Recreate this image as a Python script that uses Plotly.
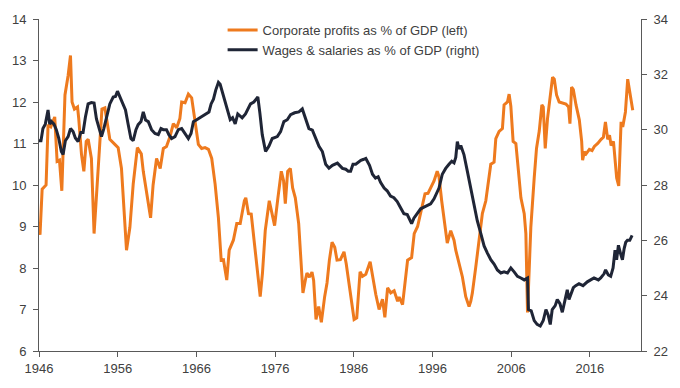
import plotly.graph_objects as go

# ---- data ----
profit_years = [1946.0, 1946.13, 1946.4, 1946.9, 1947.15, 1947.5, 1948.0, 1948.3, 1948.6, 1948.9,
                1949.3, 1949.7, 1950.0, 1950.2, 1950.5, 1950.9, 1951.05, 1951.4, 1951.7, 1952.0,
                1952.25, 1952.66, 1953.0, 1953.3, 1953.73, 1954.0, 1954.37, 1954.57, 1955.0, 1955.64,
                1956.06, 1956.48, 1957.12, 1957.55, 1957.97, 1958.5, 1959.0, 1959.25, 1959.67, 1960.18,
                1960.5, 1960.94, 1961.4, 1961.8, 1962.2, 1962.65, 1963.07, 1963.5, 1963.9, 1964.13,
                1964.56, 1964.98, 1965.4, 1965.83, 1966.25, 1966.67, 1967.1, 1967.53, 1967.95, 1968.38,
                1968.8, 1969.15, 1969.44, 1969.86, 1970.17, 1970.7, 1971.13, 1971.57, 1972.1, 1972.28,
                1972.62, 1972.97, 1973.26, 1973.68, 1974.11, 1974.4, 1974.75, 1975.26, 1975.6, 1975.94,
                1976.36, 1976.79, 1977.08, 1977.3, 1977.6, 1977.94, 1978.23, 1978.57, 1979.0, 1979.2,
                1979.54, 1979.85, 1980.05, 1980.36, 1980.69, 1980.9, 1981.2, 1981.54, 1981.88, 1982.3,
                1982.6, 1982.9, 1983.24, 1983.58, 1983.87, 1984.3, 1984.76, 1985.04, 1985.6, 1986.04,
                1986.38, 1986.8, 1987.1, 1987.53, 1988.08, 1988.38, 1988.8, 1989.22, 1989.65, 1989.95,
                1990.3, 1990.7, 1991.13, 1991.57, 1991.77, 1992.2, 1992.4, 1992.84, 1993.35, 1993.68,
                1994.11, 1994.54, 1995.05, 1995.43, 1995.77, 1996.2, 1996.6, 1996.83, 1997.17, 1997.46,
                1997.88, 1998.32, 1998.74, 1998.96, 1999.38, 1999.8, 2000.23, 2000.65, 2000.87, 2001.07,
                2001.5, 2001.92, 2002.34, 2002.78, 2003.2, 2003.41, 2003.83, 2004.05, 2004.47, 2004.89,
                2005.1, 2005.53, 2005.74, 2005.96, 2006.25, 2006.6, 2006.93, 2007.24, 2007.66, 2007.87,
                2008.08, 2008.29, 2008.5, 2008.93, 2009.22, 2009.57, 2009.9, 2010.08, 2010.33, 2010.62,
                2010.93, 2011.26, 2011.48, 2011.77, 2012.1, 2012.53, 2012.96, 2013.3, 2013.47, 2013.68,
                2013.9, 2014.24, 2014.66, 2014.96, 2015.08, 2015.3, 2015.52, 2015.94, 2016.28, 2016.57,
                2017.0, 2017.43, 2017.72, 2017.98, 2018.27, 2018.5, 2018.7, 2019.0, 2019.24, 2019.41,
                2019.67, 2019.85, 2019.97, 2020.18, 2020.52, 2020.81, 2021.03, 2021.45]
profit_values = [9.1, 8.8, 9.9, 10.0, 11.45, 11.4, 11.64, 10.57, 10.6, 9.86,
                 12.17, 12.64, 13.12, 12.0, 11.83, 11.88, 11.6, 10.74, 10.33, 11.05,
                 11.1, 10.64, 8.83, 9.69, 10.81, 11.83, 11.86, 11.6, 11.1, 10.98,
                 10.9, 10.4, 8.43, 8.98, 10.02, 10.9, 10.75, 10.33, 9.79, 9.21,
                 10.0, 10.64, 10.4, 10.88, 10.93, 11.17, 11.48, 11.38, 11.6, 12.0,
                 11.98, 12.19, 12.1, 11.57, 10.98, 10.88, 10.9, 10.86, 10.64, 10.02,
                 9.21, 8.19, 8.2, 7.71, 8.43, 8.67, 9.07, 9.07, 9.62, 9.69,
                 9.31, 9.3, 8.83, 8.12, 7.31, 7.88, 8.9, 9.62, 9.31, 9.02,
                 9.69, 10.33, 10.1, 9.55, 10.33, 10.4, 9.93, 9.69, 9.07, 8.43,
                 7.40, 7.71, 7.88, 7.78, 7.9, 7.7, 6.76, 7.07, 6.69, 7.31,
                 7.64, 8.19, 8.62, 8.5, 8.19, 8.2, 8.39, 8.1, 7.32, 6.76,
                 6.8, 7.91, 7.8, 7.85, 8.15, 7.8, 7.36, 7.0, 7.25, 6.81,
                 7.52, 7.4, 7.45, 7.2, 7.3, 7.12, 7.45, 8.19, 8.25, 8.83,
                 9.0, 9.38, 9.79, 9.8, 9.93, 10.1, 10.33, 10.2, 9.62, 9.14,
                 8.6, 8.9, 8.67, 8.43, 8.12, 7.79, 7.31, 7.07, 7.2, 7.4,
                 8.02, 8.67, 9.31, 9.62, 10.26, 10.5, 10.55, 11.12, 11.29, 11.36,
                 11.93, 12.0, 12.19, 11.9, 11.05, 11.0, 10.33, 9.69, 9.31, 8.83,
                 6.93, 7.88, 8.98, 10.17, 10.88, 11.3, 11.93, 11.88, 10.88, 11.6,
                 12.07, 12.6, 12.55, 12.17, 12.0, 11.98, 11.95, 11.88, 11.48, 12.36,
                 12.3, 11.93, 11.57, 11.05, 10.6, 10.8, 10.75, 10.86, 10.83, 10.93,
                 11.0, 11.1, 11.15, 11.52, 11.1, 11.2, 10.95, 11.05, 10.57, 10.17,
                 9.98, 10.88, 11.52, 11.4, 11.76, 12.55, 12.3, 11.8]

wage_years = [1946.0, 1946.25, 1946.5, 1946.8, 1947.15, 1947.36, 1947.57, 1947.9, 1948.2, 1948.5,
              1948.84, 1949.06, 1949.35, 1949.7, 1950.0, 1950.33, 1950.62, 1950.97, 1951.31, 1951.6,
              1951.9, 1952.24, 1952.66, 1953.0, 1953.3, 1953.64, 1953.94, 1954.24, 1954.57, 1955.0,
              1955.43, 1955.72, 1955.97, 1956.28, 1956.7, 1956.99, 1957.34, 1957.68, 1957.97, 1958.32,
              1958.6, 1958.96, 1959.25, 1959.54, 1959.89, 1960.3, 1960.74, 1961.16, 1961.5, 1961.8,
              1962.2, 1962.5, 1962.85, 1963.28, 1963.7, 1964.13, 1964.56, 1964.98, 1965.32, 1965.62,
              1966.04, 1966.47, 1966.9, 1967.3, 1967.6, 1967.87, 1968.17, 1968.46, 1968.8, 1969.02,
              1969.3, 1969.66, 1969.99, 1970.3, 1970.6, 1970.93, 1971.26, 1971.57, 1971.82, 1972.24,
              1972.88, 1973.3, 1973.81, 1974.07, 1974.37, 1974.79, 1975.21, 1975.64, 1976.28, 1976.7,
              1977.12, 1977.55, 1977.97, 1978.48, 1979.03, 1979.46, 1979.89, 1980.3, 1980.74, 1981.16,
              1981.58, 1982.01, 1982.43, 1982.85, 1983.29, 1983.92, 1984.56, 1984.98, 1985.3, 1985.6,
              1985.9, 1986.25, 1986.9, 1987.27, 1987.53, 1988.0, 1988.38, 1988.76, 1989.1, 1989.4,
              1989.86, 1990.24, 1990.67, 1991.1, 1991.52, 1991.95, 1992.37, 1992.8, 1993.1, 1993.35,
              1993.64, 1994.06, 1994.5, 1994.92, 1995.34, 1995.77, 1996.2, 1996.6, 1996.83, 1997.25,
              1997.68, 1998.1, 1998.45, 1998.74, 1998.96, 1999.16, 1999.38, 1999.6, 1999.8, 2000.0,
              2000.43, 2000.87, 2001.29, 2001.7, 2002.14, 2002.56, 2002.98, 2003.41, 2003.83, 2004.25,
              2004.69, 2005.1, 2005.53, 2005.96, 2006.38, 2006.8, 2007.24, 2007.66, 2008.08, 2008.2,
              2008.55, 2008.93, 2009.3, 2009.7, 2010.08, 2010.42, 2010.7, 2010.97, 2011.22, 2011.6,
              2011.86, 2012.2, 2012.5, 2012.84, 2013.13, 2013.35, 2013.55, 2013.9, 2014.2, 2014.62,
              2015.13, 2015.68, 2016.1, 2016.53, 2017.08, 2017.38, 2017.8, 2018.0, 2018.35, 2018.65,
              2018.95, 2019.2, 2019.4, 2019.63, 2019.92, 2020.14, 2020.36, 2020.56, 2020.78, 2021.07,
              2021.37]
wage_values = [29.6, 29.6, 30.04, 30.2, 30.71, 30.2, 30.3, 30.2, 30.0, 29.7,
               29.21, 29.1, 29.6, 29.75, 30.04, 29.93, 29.7, 29.57, 29.9, 29.9,
               30.46, 30.93, 30.98, 30.96, 30.39, 30.0, 29.75, 30.04, 30.46, 30.93,
               31.18, 31.2, 31.39, 31.18, 30.9, 30.71, 30.18, 29.68, 29.6, 30.0,
               30.18, 30.29, 30.64, 30.35, 30.29, 30.0, 29.86, 29.82, 30.04, 30.0,
               30.0, 29.82, 29.68, 29.75, 30.0, 30.04, 29.86, 29.68, 29.86, 30.29,
               30.36, 30.43, 30.5, 30.57, 30.64, 30.93, 31.1, 31.43, 31.71, 31.64,
               31.35, 31.07, 30.7, 30.36, 30.43, 30.21, 30.57, 30.5, 30.43, 30.57,
               30.93, 31.0, 31.18, 30.6, 29.82, 29.21, 29.4, 29.68, 29.75, 29.93,
               30.29, 30.36, 30.54, 30.61, 30.64, 30.75, 30.36, 30.04, 29.98, 29.68,
               29.4, 29.21, 28.75, 28.61, 28.71, 28.79, 28.6, 28.57, 28.5, 28.5,
               28.75, 28.75, 28.89, 28.93, 28.96, 28.71, 28.39, 28.25, 28.3, 28.1,
               27.89, 27.79, 27.6, 27.54, 27.4, 27.18, 26.96, 26.93, 26.71, 26.6,
               26.8, 26.96, 27.14, 27.2, 27.25, 27.32, 27.5, 27.79, 27.89, 28.39,
               28.6, 28.75, 28.86, 28.8, 29.0, 29.57, 29.3, 29.43, 29.25, 29.1,
               28.5, 27.89, 27.18, 26.7, 26.25, 25.8, 25.54, 25.3, 25.14, 24.93,
               24.82, 24.86, 24.82, 25.0, 24.86, 24.7, 24.64, 24.57, 24.64, 23.5,
               23.45, 23.1, 22.96, 22.9, 23.1, 23.5, 23.3, 22.96, 23.5, 23.64,
               23.86, 23.71, 23.4, 23.86, 24.21, 23.86, 24.0, 24.29, 24.36, 24.43,
               24.36, 24.5, 24.57, 24.64, 24.57, 24.64, 24.79, 24.93, 24.75, 24.7,
               25.0, 25.64, 25.3, 25.82, 25.5, 25.3, 25.7, 25.93, 26.0, 26.0,
               26.18]

x_tick_values = [1946, 1956, 1966, 1976, 1986, 1996, 2006, 2016]
x_tick_labels = ["1946", "1956", "1966", "1976", "1986", "1996", "2006", "2016"]
left_ticks = [6, 7, 8, 9, 10, 11, 12, 13, 14]
right_ticks = [22, 24, 26, 28, 30, 32, 34]

profit_name = "Corporate profits as % of GDP (left)"
wage_name = "Wages & salaries as % of GDP (right)"

ORANGE = "#EE7A1E"
NAVY = "#1F2536"
AXIS = "#595959"
TEXT = "#404040"
FONT = "Liberation Sans, Arial, sans-serif"

fig = go.Figure()
fig.add_trace(go.Scatter(x=profit_years, y=profit_values, name=profit_name, mode="lines",
                         line=dict(color=ORANGE, width=3), yaxis="y"))
fig.add_trace(go.Scatter(x=wage_years, y=wage_values, name=wage_name, mode="lines",
                         line=dict(color=NAVY, width=3), yaxis="y2"))

axis_common = dict(showgrid=False, zeroline=False, showline=True, linecolor=AXIS, linewidth=1,
                   ticks="outside", ticklen=5, tickcolor=AXIS, tickwidth=1,
                   tickfont=dict(family=FONT, size=13, color=TEXT))

fig.update_layout(
    width=680, height=388, autosize=False,
    margin=dict(l=39, r=38, t=16, b=36),
    paper_bgcolor="white", plot_bgcolor="white",
    showlegend=True,
    legend=dict(x=0.305, y=1.012, xanchor="left", yanchor="top",
                bgcolor="rgba(0,0,0,0)", font=dict(family=FONT, size=13, color=TEXT),
                itemwidth=30, tracegroupgap=0),
    xaxis=dict(range=[1946, 2022.5], tickvals=x_tick_values, ticktext=x_tick_labels, **axis_common),
    yaxis=dict(range=[6, 14], tickvals=left_ticks, ticklabelstandoff=4, **axis_common),
    yaxis2=dict(range=[22, 34], tickvals=right_ticks, overlaying="y", side="right",
                ticklabelstandoff=4, **axis_common),
)

fig.write_html("out.html", config={"displayModeBar": False},
               post_script="document.body.style.margin='0';document.body.style.padding='0';")
